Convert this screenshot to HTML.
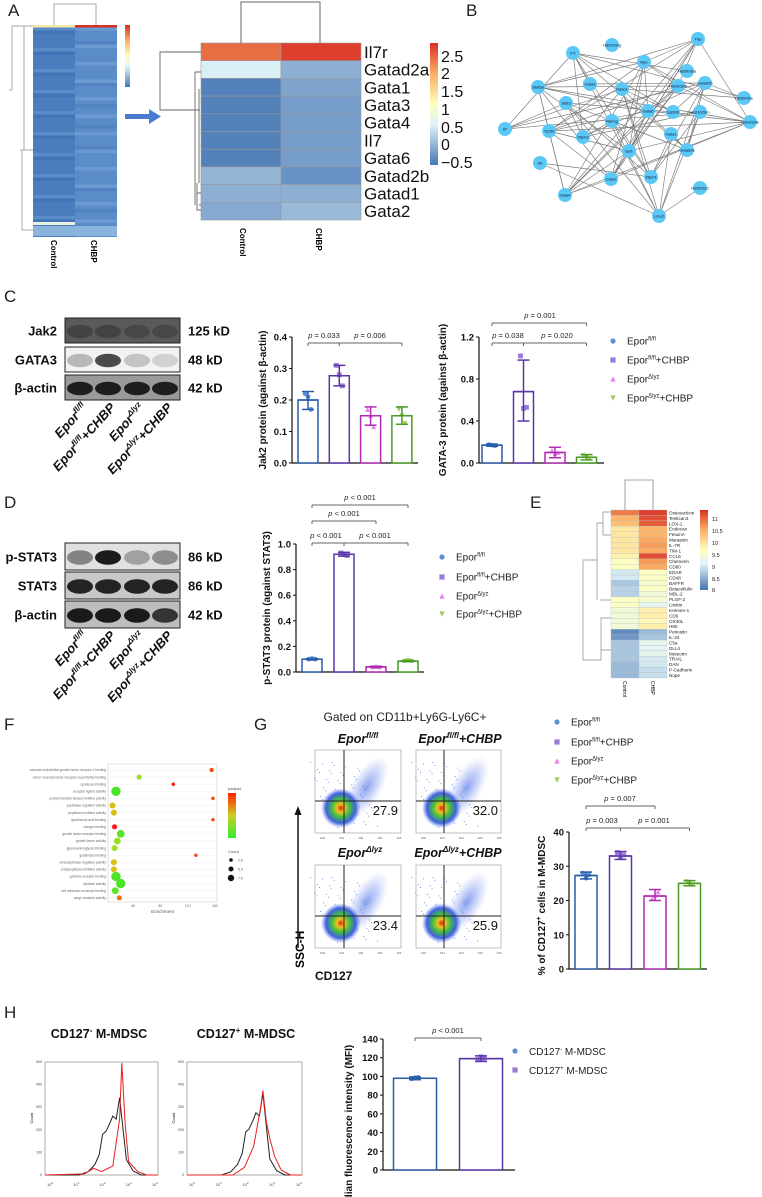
<!DOCTYPE html>
<html><head><meta charset="utf-8">
<style>
html,body{margin:0;padding:0;background:#fff;}
svg{display:block;font-family:"Liberation Sans",Arial,sans-serif;}
</style></head>
<body>
<svg id="fig" width="762" height="1197" viewBox="0 0 762 1197" xmlns="http://www.w3.org/2000/svg">
<defs>
<linearGradient id="cbA" x1="0" y1="1" x2="0" y2="0">
<stop offset="0" stop-color="#4575b4"/><stop offset="0.33" stop-color="#e0f3f8"/><stop offset="0.5" stop-color="#ffffbf"/><stop offset="0.75" stop-color="#fdae61"/><stop offset="1" stop-color="#d73027"/></linearGradient>
<linearGradient id="cbF" x1="0" y1="1" x2="0" y2="0">
<stop offset="0" stop-color="#33ee33"/><stop offset="0.5" stop-color="#cccc22"/><stop offset="1" stop-color="#ff2200"/></linearGradient>
<radialGradient id="flow"><stop offset="0" stop-color="#e02020"/><stop offset="0.2" stop-color="#f0c020"/><stop offset="0.45" stop-color="#40c040"/><stop offset="0.75" stop-color="#4060e0"/><stop offset="1" stop-color="#6080f0" stop-opacity="0"/></radialGradient>
<radialGradient id="flow2"><stop offset="0" stop-color="#6080e8"/><stop offset="0.5" stop-color="#8aa0f0" stop-opacity="0.6"/><stop offset="1" stop-color="#a0b0f8" stop-opacity="0"/></radialGradient>
</defs>
<g id="root"></g>
</svg>
<script>
// ---------- Chart data ----------
var groups = ["Epor fl/fl","Epor fl/fl+CHBP","Epor Δlyz","Epor Δlyz+CHBP"];
var jak2Values = [0.20, 0.277, 0.15, 0.15];
var jak2Lo = [0.17, 0.245, 0.12, 0.123];
var jak2Hi = [0.227, 0.31, 0.178, 0.178];
var jak2Points = [[0.22,0.21,0.17],[0.31,0.28,0.245],[0.17,0.15,0.115],[0.17,0.15,0.125]];
var jak2Ticks = [0,0.1,0.2,0.3,0.4];
var gata3Values = [0.17, 0.68, 0.10, 0.055];
var gata3Lo = [0.16, 0.40, 0.05, 0.03];
var gata3Hi = [0.18, 0.98, 0.15, 0.08];
var gata3Points = [[0.175,0.17,0.165],[1.02,0.52,0.53],[0.12,0.09,0.1],[0.07,0.05,0.04]];
var gata3Ticks = [0,0.4,0.8,1.2];
var pstat3Values = [0.10, 0.92, 0.04, 0.085];
var pstat3Lo = [0.095, 0.905, 0.035, 0.08];
var pstat3Hi = [0.105, 0.935, 0.045, 0.09];
var pstat3Points = [[0.1,0.105,0.1],[0.93,0.92,0.91],[0.04,0.045,0.04],[0.085,0.09,0.085]];
var pstat3Ticks = [0,0.2,0.4,0.6,0.8,1.0];
var cd127Values = [27.3, 33.0, 21.3, 25.0];
var cd127Lo = [26.3, 32.0, 20.0, 24.3];
var cd127Hi = [28.3, 34.3, 23.2, 25.8];
var cd127Points = [[28,26.5,27.5],[34,32.5,33.3],[20.5,21.5,22.5],[25.5,24.8,24.6]];
var cd127Ticks = [0,10,20,30,40];
var mfiGroups = ["CD127- M-MDSC","CD127+ M-MDSC"];
var mfiValues = [98, 119];
var mfiLo = [96.5, 116];
var mfiHi = [99.5, 122];
var mfiPoints = [[97.5,98.5,99],[118,121,119.5]];
var mfiTicks = [0,20,40,60,80,100,120,140];
var flowPercents = ["27.9","32.0","23.4","25.9"];
var aGenes = ["Il7r","Gatad2a","Gata1","Gata3","Gata4","Il7","Gata6","Gatad2b","Gatad1","Gata2"];
var aControl = [2.3, 0.45, -0.5, -0.5, -0.5, -0.5, -0.5, -0.05, -0.1, -0.15];
var aCHBP = [2.6, -0.1, -0.2, -0.25, -0.25, -0.25, -0.25, -0.35, -0.1, 0.0];
var eProteins = ["Osteoactivin","Testican3","LOX-1","Endocan","FetuinA","Marapsin","IL-7R","TIM-1","CCL6","Chemerin","CD80","EDAR","CD48","BAFFR","Betacellulin","MBL-2","PLGF-2","Limitin","Kremen-1","CD6","OX40L","H60","Periostin","IL-33","C5a","DLL4","Meteorin","TRAIL","DAN","P-Cadherin","Nope"];
var eControl = [10.8,10.4,10.3,9.9,9.9,9.9,9.9,9.9,9.8,9.6,9.6,9.0,9.0,8.7,8.8,8.8,9.6,9.6,9.4,9.4,9.4,9.4,8.2,8.3,8.7,8.7,8.7,8.7,8.6,8.6,8.6];
var eCHBP = [11.2,11.1,11.0,10.4,10.4,10.5,10.6,10.5,11.1,10.6,10.5,9.6,9.6,9.5,9.6,9.4,9.5,9.2,9.8,9.8,9.7,9.8,8.6,8.7,9.2,9.1,9.2,9.0,9.0,8.9,8.9];
var fTerms = ["vascular endothelial growth factor receptor 2 binding","tumor necrosis factor receptor superfamily binding","syndecan binding","receptor ligand activity","protein tyrosine kinase inhibitor activity","peptidase regulator activity","peptidase inhibitor activity","lipoteichoic acid binding","integrin binding","growth factor receptor binding","growth factor activity","glycosaminoglycan binding","gelatinase binding","endopeptidase regulator activity","endopeptidase inhibitor activity","cytokine receptor binding","cytokine activity","cell adhesion molecule binding","cargo receptor activity"];
var fEnrich = [155,49,99,15,157,10,12,157,13,22,17,13,132,12,12,15,22,14,20];
var fPadj = [0.034,0.012,0.04,0.002,0.034,0.022,0.022,0.034,0.04,0.004,0.012,0.014,0.034,0.022,0.022,0.002,0.002,0.004,0.03];
var fCount = [3,4,2,9,2,5,5,2,4,7,6,5,2,5,5,9,9,6,4];
var fTicks = [40,80,120,160];

// ---------- helpers ----------
var NS="http://www.w3.org/2000/svg";
var root=document.getElementById('root');
function mk(tag, attrs, parent, txt){
  var e=document.createElementNS(NS,tag);
  for(var k in attrs) e.setAttribute(k, attrs[k]);
  if(txt!==undefined) e.textContent=txt;
  (parent||root).appendChild(e);
  return e;
}
function grp(name){
  var g=mk('g',{});
  
  
  return g;
}
var gColors=["#2a5ca8","#5b35a8","#b02cb0","#4a9a24"];
var gMark=["#5b8fd8","#9a7ad8","#ea7ee8","#9acd52"];

function panelLabel(t,x,y){
  var e=mk('text',{x:x,y:y,'font-size':17,fill:'#222'},root,t);
  
  
}
['A',8,16,'B',466,16,'C',4,302,'D',4,508,'E',530,508,'F',4,730,'G',254,730,'H',4,1018].forEach(function(v,i,a){ if(i%3===0) panelLabel(a[i],a[i+1],a[i+2]); });

function marker(g,shape,x,y,c,s){
  s=s||2.6;
  if(shape===0) mk('circle',{cx:x,cy:y,r:s,fill:c},g);
  else if(shape===1) mk('rect',{x:x-s,y:y-s,width:2*s,height:2*s,fill:c},g);
  else if(shape===2) mk('polygon',{points:(x)+','+(y-s)+' '+(x-s)+','+(y+s)+' '+(x+s)+','+(y+s),fill:c},g);
  else mk('polygon',{points:(x)+','+(y+s)+' '+(x-s)+','+(y-s)+' '+(x+s)+','+(y-s),fill:c},g);
}

function barChart(cfg){
  var g=grp(cfg.name);
  var y0=cfg.y0, y1=cfg.y1, maxV=cfg.ticks[cfg.ticks.length-1];
  function Y(v){return y0-(v/maxV)*(y0-y1);}
  function X(i){return cfg.x0+cfg.first+i*cfg.step;}
  mk('line',{x1:cfg.x0,y1:y1,x2:cfg.x0,y2:y0,stroke:'#111','stroke-width':1.2},g);
  mk('line',{x1:cfg.x0,y1:y0,x2:cfg.xEnd,y2:y0,stroke:'#111','stroke-width':1.2},g);
  cfg.ticks.forEach(function(t){
    mk('line',{x1:cfg.x0-3,y1:Y(t),x2:cfg.x0,y2:Y(t),stroke:'#111','stroke-width':1},g);
    var tl=mk('text',{x:cfg.x0-5,y:Y(t)+3.5,'font-size':9.5,'font-weight':'bold','text-anchor':'end',fill:'#111'},g,cfg.fmt(t));
    
    
  });
  var yl=mk('text',{x:0,y:0,'font-size':cfg.lfs||10,'font-weight':'bold','text-anchor':'middle',fill:'#111',transform:'translate('+cfg.lx+','+((y0+y1)/2+(cfg.ldy||0))+') rotate(-90)'},g);
  yl.innerHTML=cfg.label;
  
  
  cfg.values.forEach(function(v,i){
    var cx=X(i), w=cfg.bw;
    var b=mk('rect',{x:cx-w/2,y:Y(v),width:w,height:y0-Y(v),fill:'#fff',stroke:cfg.colors[i],'stroke-width':1.5},g);
    
    
    cfg.points[i].forEach(function(p,k){ marker(g,cfg.shapes?cfg.shapes[i]:i,cx+(k-1)*3,Y(p),cfg.mcolors[i],2.4); });
    mk('line',{x1:cx,y1:Y(cfg.hi[i]),x2:cx,y2:Y(cfg.lo[i]),stroke:cfg.colors[i],'stroke-width':1.5},g);
    mk('line',{x1:cx-6,y1:Y(cfg.hi[i]),x2:cx+6,y2:Y(cfg.hi[i]),stroke:cfg.colors[i],'stroke-width':1.5},g);
    mk('line',{x1:cx-6,y1:Y(cfg.lo[i]),x2:cx+6,y2:Y(cfg.lo[i]),stroke:cfg.colors[i],'stroke-width':1.5},g);
    mk('line',{x1:cx-w/2,y1:Y(v),x2:cx+w/2,y2:Y(v),stroke:cfg.colors[i],'stroke-width':1.5},g);
  });
  (cfg.sig||[]).forEach(function(s){
    var xa=X(s.a), xb=X(s.b);
    mk('line',{x1:xa,y1:s.y,x2:xb,y2:s.y,stroke:'#666','stroke-width':1},g);
    mk('line',{x1:xa,y1:s.y,x2:xa,y2:s.y+3,stroke:'#666','stroke-width':1},g);
    mk('line',{x1:xb,y1:s.y,x2:xb,y2:s.y+3,stroke:'#666','stroke-width':1},g);
    if(s.mid!==undefined) mk('line',{x1:X(s.mid),y1:s.y,x2:X(s.mid),y2:s.y+3,stroke:'#666','stroke-width':1},g);
    s.txt.forEach(function(t){
      var e=mk('text',{x:t[0],y:s.y-5,'font-size':7.5,'text-anchor':'middle',fill:'#222'},g);
      e.innerHTML='<tspan font-style="italic">p</tspan> '+t[1];
      
      
    });
  });
}

function legend4(name,x,ys){
  var g=grp(name);
  var labs=['Epor<tspan font-size="6" dy="-4">fl/fl</tspan>','Epor<tspan font-size="6" dy="-4">fl/fl</tspan><tspan dy="4">+CHBP</tspan>','Epor<tspan font-size="6" dy="-4">Δlyz</tspan>','Epor<tspan font-size="6" dy="-4">Δlyz</tspan><tspan dy="4">+CHBP</tspan>'];
  ys.forEach(function(y,i){
    marker(g,i,x,y,gMark[i],2.6);
    var t=mk('text',{x:x+14,y:y+3.5,'font-size':10,fill:'#222'},g);
    t.innerHTML=labs[i];
    
    
  });
}

// ---------- Panel A ----------
function heatColor(v,min,max){
  var t=(v-min)/(max-min); t=Math.max(0,Math.min(1,t));
  var stops=[[0,[69,117,180]],[0.33,[224,243,248]],[0.5,[255,255,191]],[0.75,[253,174,97]],[1,[215,48,39]]];
  for(var i=1;i<stops.length;i++){ if(t<=stops[i][0]){ var a=stops[i-1],b=stops[i],f=(t-a[0])/(b[0]-a[0]);
    return 'rgb('+[0,1,2].map(function(k){return Math.round(a[1][k]+(b[1][k]-a[1][k])*f);}).join(',')+')'; } }
  return 'rgb(215,48,39)';
}
(function(){
  var g=grp('panel-a-overview-heatmap');
  g.setAttribute('shape-rendering','crispEdges');
  mk('rect',{x:33,y:25,width:84,height:212,fill:'#4b7fc0'},g);
  var shades=['#5a8cc8','#4a7cbe','#6a9ad0','#4374b8','#5283c3','#7fa9d6'];
  for(var i=0;i<60;i++){
    var y=27+i*3.5;
    mk('rect',{x:33,y:y,width:42,height:3.6,fill:shades[(i*7)%6===1?3:((i*5)%6===0?0:1)]},g);
    mk('rect',{x:75,y:y,width:42,height:3.6,fill:shades[(i*3)%5===0?2:((i*11)%6==2?4:0)]},g);
  }
  mk('rect',{x:33,y:25,width:42,height:2.5,fill:'#f3e9a5'},g);
  mk('rect',{x:75,y:25,width:42,height:2.5,fill:'#d73027'},g);
  mk('rect',{x:33,y:222,width:42,height:3,fill:'#e8f0e0'},g);
  mk('rect',{x:33,y:226,width:84,height:10,fill:'#8ab4dc'},g);
  mk('path',{d:'M54 25 V4 H96 V25',fill:'none',stroke:'#aaa','stroke-width':1},g);
  mk('path',{d:'M33 26 H12 V90 M12 90 H9 M24 26 V150 M20 150 H33 M22 150 V230 H33',fill:'none',stroke:'#aaa','stroke-width':0.8},g);
  mk('rect',{x:125,y:25,width:5,height:62,fill:'url(#cbA)'},g);
  mk('text',{x:0,y:0,'font-size':8,'font-weight':'bold',transform:'translate(51,240) rotate(90)'},g,'Control');
  mk('text',{x:0,y:0,'font-size':8,'font-weight':'bold',transform:'translate(91,240) rotate(90)'},g,'CHBP');
  var ar=grp('arrow');
  mk('rect',{x:125,y:114,width:24,height:5,fill:'#4a7bd0'},ar);
  mk('polygon',{points:'149,109 161,116.5 149,124',fill:'#4a7bd0'},ar);
})();
(function(){
  var g=grp('panel-a-gene-heatmap');
  var x0=201,y0=43,cw=80,rh=17.7;
  aGenes.forEach(function(gn,i){
    var r1=mk('rect',{x:x0,y:y0+i*rh,width:cw,height:rh,fill:heatColor(aControl[i],-0.6,2.7),stroke:'#999','stroke-width':0.6},g);
    
    
    var r2=mk('rect',{x:x0+cw,y:y0+i*rh,width:cw,height:rh,fill:heatColor(aCHBP[i],-0.6,2.7),stroke:'#999','stroke-width':0.6},g);
    
    
    var t=mk('text',{x:364,y:y0+i*rh+rh/2+6,'font-size':17,fill:'#111'},g,gn);
    
    
  });
  mk('path',{d:'M241 43 V2 H320 V43',fill:'none',stroke:'#666','stroke-width':1},g);
  mk('path',{d:'M201 52 H160 V110 H195 M195 110 H200 M195 72 V205 M195 72 H201 M199 89 V183 M199 205 H201 M197 183 V210 H201 M197 193 H201',fill:'none',stroke:'#666','stroke-width':0.9},g);
  mk('rect',{x:430,y:43,width:8,height:122,fill:'url(#cbA)'},g);
  [['2.5',56],['2',73],['1.5',91],['1',109],['0.5',127],['0',144],['−0.5',162]].forEach(function(v){
    mk('text',{x:441,y:v[1]+6,'font-size':16,fill:'#111'},g,v[0]);
  });
  mk('text',{x:0,y:0,'font-size':8,'font-weight':'bold',transform:'translate(240,228) rotate(90)'},g,'Control');
  mk('text',{x:0,y:0,'font-size':8,'font-weight':'bold',transform:'translate(316,228) rotate(90)'},g,'CHBP');
})();

// ---------- Panel B network ----------
(function(){
  var g=grp('panel-b-network');
  var nodes=[['Tbp',698,39],['Hist1h2bg',612,45],['Il7r',573,53],['Myc',644,62],['Hist3h2ba',687,71],['Gatad2b',705,83],['Stat5a',538,87],['Gata3',590,84],['Hdac1',622,89],['Hist1h2bb',678,86],['Hist2h2be',744,98],['Stat3',566,103],['Gata6',648,111],['Ep300',673,112],['Hist1h2bm',700,112],['Hist1h2bk',750,122],['Il7',505,129],['Nanog',612,121],['Trp53',549,131],['Zfpm2',583,137],['Gata1',671,134],['Spi1',629,151],['Gatad2a',687,150],['Kit',540,163],['Gata2',611,179],['Zfpm1',651,177],['Hist2h3c2',700,188],['Gata4',565,195],['Lmo2',659,216]];
  var n=nodes.length;
  for(var i=0;i<n;i++) for(var j=i+1;j<n;j++){
    if((i*7+j*5+i*j)%3!==0) continue;
    mk('line',{x1:nodes[i][1],y1:nodes[i][2],x2:nodes[j][1],y2:nodes[j][2],stroke:'#7a7a7a','stroke-width':0.65},g);
  }
  nodes.forEach(function(nd){
    var c=mk('circle',{cx:nd[1],cy:nd[2],r:7,fill:'#5bc8f5'},g);
    
    
    mk('text',{x:nd[1],y:nd[2]+1.5,'font-size':4,'text-anchor':'middle',fill:'#113'},g,nd[0]);
  });
})();

// ---------- Western blots ----------
function blot(name,rows,bands,lab,kd,y0s,h){
  var g=grp(name);
  var lanes=[80,108,137,165];
  rows.forEach(function(r,ri){
    var y=y0s[ri];
    mk('rect',{x:65,y:y,width:115,height:h,fill:bands[ri].bg,stroke:'#222','stroke-width':1},g);
    lanes.forEach(function(lx,li){
      var a=bands[ri].a[li];
      if(a>0) mk('ellipse',{cx:lx,cy:y+h/2+1,rx:13,ry:h*0.27,fill:'#111',opacity:a},g);
    });
    var t=mk('text',{x:57,y:y+h/2+5,'font-size':13,'font-weight':'bold','text-anchor':'end',fill:'#111'},g,lab[ri]);
    
    
    mk('text',{x:188,y:y+h/2+5,'font-size':13,'font-weight':'bold',fill:'#111'},g,kd[ri]);
  });
  var labs=['Epor<tspan font-size="8" dy="-5">fl/fl</tspan>','Epor<tspan font-size="8" dy="-5">fl/fl</tspan><tspan dy="5">+CHBP</tspan>','Epor<tspan font-size="8" dy="-5">Δlyz</tspan>','Epor<tspan font-size="8" dy="-5">Δlyz</tspan><tspan dy="5">+CHBP</tspan>'];
  var ly=y0s[y0s.length-1]+h+8;
  lanes.forEach(function(lx,i){
    var t=mk('text',{x:0,y:0,'font-size':13,'font-weight':'bold','font-style':'italic','text-anchor':'end',fill:'#111',transform:'translate('+(lx+8)+','+ly+') rotate(-48)'},g);
    t.innerHTML=labs[i];
    
    
  });
}
blot('panel-c-western-blot',[0,1,2],[{bg:'#5a5a5a',a:[0.3,0.3,0.25,0.25]},{bg:'#f2f2f2',a:[0.25,0.75,0.2,0.15]},{bg:'#9a9a9a',a:[0.9,0.9,0.9,0.9]}],['Jak2','GATA3','β-actin'],['125 kD','48 kD','42 kD'],[318,347,375],25);
blot('panel-d-western-blot',[0,1,2],[{bg:'#e0e0e0',a:[0.45,0.95,0.3,0.4]},{bg:'#c8c8c8',a:[0.9,0.9,0.9,0.9]},{bg:'#bdbdbd',a:[0.95,0.95,0.95,0.8]}],['p-STAT3','STAT3','β-actin'],['86 kD','86 kD','42 kD'],[543,572,601],27);

// ---------- Bar charts ----------
function f1(t){return t.toFixed(1);}
barChart({name:'jak2-bar-chart',x0:292,xEnd:418,y0:463,y1:337,first:16,step:31.3,bw:20,ticks:jak2Ticks,fmt:f1,values:jak2Values,lo:jak2Lo,hi:jak2Hi,points:jak2Points,colors:gColors,mcolors:gMark,lx:266,
  label:'Jak2 protein (against β-actin)',sig:[{a:0,b:3,mid:1,y:343,txt:[[324,'= 0.033'],[370,'= 0.006']]}]});
barChart({name:'gata3-bar-chart',x0:479,xEnd:604,y0:463,y1:337,first:13,step:31.5,bw:20,ticks:gata3Ticks,fmt:f1,values:gata3Values,lo:gata3Lo,hi:gata3Hi,points:gata3Points,colors:gColors,mcolors:gMark,lx:446,
  label:'GATA-3 protein (against β-actin)',sig:[{a:0,b:3,y:323,txt:[[540,'= 0.001']]},{a:0,b:3,mid:1,y:343,txt:[[508,'= 0.038'],[557,'= 0.020']]}]});
legend4('panel-c-legend',613,[341,360,379,398]);
barChart({name:'pstat3-bar-chart',x0:296,xEnd:424,y0:672,y1:544,first:16,step:32,bw:20,ticks:pstat3Ticks,fmt:f1,values:pstat3Values,lo:pstat3Lo,hi:pstat3Hi,points:pstat3Points,colors:gColors,mcolors:gMark,lx:270,
  label:'p-STAT3 protein (against STAT3)',sig:[{a:0,b:3,y:505,txt:[[360,'&lt; 0.001']]},{a:0,b:2,y:521,txt:[[344,'&lt; 0.001']]},{a:0,b:3,mid:1,y:543,txt:[[326,'&lt; 0.001'],[375,'&lt; 0.001']]}]});
legend4('panel-d-legend',442,[557,577,596,614]);
barChart({name:'cd127-bar-chart',x0:569,xEnd:707,y0:969,y1:832,first:17,step:34.5,bw:22,ticks:cd127Ticks,fmt:function(t){return ''+t;},values:cd127Values,lo:cd127Lo,hi:cd127Hi,points:cd127Points,colors:gColors,mcolors:gMark,lx:545,ldy:5,
  label:'% of CD127<tspan font-size="7" dy="-4">+</tspan><tspan dy="4"> cells in M-MDSC</tspan>',sig:[{a:0,b:2,y:806,txt:[[620,'= 0.007']]},{a:0,b:3,mid:1,y:828,txt:[[602,'= 0.003'],[654,'= 0.001']]}]});
legend4('panel-g-legend',557,[722,742,761,780]);
barChart({name:'mfi-bar-chart',x0:383,xEnd:515,y0:1170,y1:1039,first:32,step:66,bw:43,ticks:mfiTicks,fmt:function(t){return ''+t;},values:mfiValues,lo:mfiLo,hi:mfiHi,points:mfiPoints,colors:[gColors[0],gColors[1]],mcolors:[gMark[0],gMark[1]],lx:352,ldy:25,
  label:'Median fluorescence intensity (MFI)',sig:[{a:0,b:1,y:1038,txt:[[448,'&lt; 0.001']]}]});
(function(){
  var g=grp('panel-h-legend');
  marker(g,0,515,1051,gMark[0],2.6); marker(g,1,515,1070,gMark[1],2.6);
  var t1=mk('text',{x:529,y:1055,'font-size':10,fill:'#222'},g); t1.innerHTML='CD127<tspan font-size="6" dy="-4">-</tspan><tspan dy="4"> M-MDSC</tspan>';
   
  var t2=mk('text',{x:529,y:1074,'font-size':10,fill:'#222'},g); t2.innerHTML='CD127<tspan font-size="6" dy="-4">+</tspan><tspan dy="4"> M-MDSC</tspan>';
   
})();

// ---------- Panel E heatmap ----------
(function(){
  var g=grp('panel-e-heatmap');
  var x0=611,y0=510,cw=28,rh=168/eProteins.length;
  function ec(v){return heatColor(v,8,11.3);}
  eProteins.forEach(function(p,i){
    var r1=mk('rect',{x:x0,y:y0+i*rh,width:cw,height:rh,fill:ec(eControl[i]),stroke:'#bbb','stroke-width':0.3},g);
    
    
    var r2=mk('rect',{x:x0+cw,y:y0+i*rh,width:cw,height:rh,fill:ec(eCHBP[i]),stroke:'#bbb','stroke-width':0.3},g);
    
    
    mk('text',{x:669,y:y0+i*rh+rh-1,'font-size':4.6,fill:'#222'},g,p);
  });
  mk('path',{d:'M625 510 V480 H653 V510',fill:'none',stroke:'#888','stroke-width':0.8},g);
  mk('path',{d:'M611 512 H603 V535 H611 M603 523 H597 V600 M597 560 H583 V660 M583 660 H601 V618 H611 M601 650 H611 M600 600 H611',fill:'none',stroke:'#888','stroke-width':0.7},g);
  mk('rect',{x:700,y:510,width:8,height:80,fill:'url(#cbA)'},g);
  [['11',519],['10.5',531],['10',543],['9.5',555],['9',567],['8.5',579],['8',590]].forEach(function(v){ mk('text',{x:712,y:v[1]+2,'font-size':5.5,fill:'#222'},g,v[0]); });
  mk('text',{x:0,y:0,'font-size':5,transform:'translate(623,681) rotate(90)'},g,'Control');
  mk('text',{x:0,y:0,'font-size':5,transform:'translate(651,681) rotate(90)'},g,'CHBP');
})();

// ---------- Panel F dot plot ----------
(function(){
  var g=grp('panel-f-dot-plot');
  var x0=108,x1=217,y0=764,y1=902;
  function X(e){return 105.7+e*0.683;}
  function Yr(i){return 770+i*7.1;}
  mk('rect',{x:x0,y:y0,width:x1-x0,height:y1-y0,fill:'#fff',stroke:'#ccc','stroke-width':0.6},g);
  fTerms.forEach(function(t,i){
    mk('line',{x1:x0,y1:Yr(i),x2:x1,y2:Yr(i),stroke:'#eee','stroke-width':0.5},g);
    mk('text',{x:x0-2,y:Yr(i)+1.2,'font-size':3.3,'text-anchor':'end',fill:'#666'},g,t);
  });
  fTicks.forEach(function(t){ mk('text',{x:X(t),y:y1+5,'font-size':3.5,'text-anchor':'middle',fill:'#666'},g,''+t); });
  mk('text',{x:(x0+x1)/2,y:y1+11,'font-size':4.5,'text-anchor':'middle',fill:'#555'},g,'Enrichment');
  fTerms.forEach(function(t,i){
    var f=Math.min(1,fPadj[i]/0.04);
    var col=f<0.5?'rgb('+Math.round(60+f*2*150)+','+Math.round(230-f*20)+',40)':'rgb('+Math.round(210+(f-0.5)*2*45)+','+Math.round(210-(f-0.5)*2*190)+',20)';
    var d=mk('circle',{cx:X(fEnrich[i]),cy:Yr(i),r:0.9+fCount[i]*0.42,fill:col},g);
    
    
  });
  mk('text',{x:228,y:790,'font-size':4,fill:'#555'},g,'padjust');
  mk('rect',{x:228,y:793,width:8,height:45,fill:'url(#cbF)'},g);
  mk('text',{x:228,y:853,'font-size':4,fill:'#555'},g,'Count');
  [[860,1.8,'2.5'],[869,2.5,'5.0'],[878,3.2,'7.5']].forEach(function(v){ mk('circle',{cx:231,cy:v[0],r:v[1],fill:'#111'},g); mk('text',{x:238,y:v[0]+1.5,'font-size':3.5,fill:'#555'},g,v[2]); });
})();

// ---------- Panel G flow plots ----------
(function(){
  var g=grp('panel-g-flow-plots');
  mk('text',{x:405,y:721,'font-size':12,'text-anchor':'middle',fill:'#222'},g,'Gated on CD11b+Ly6G-Ly6C+');
  var heads=[[358,743,'Epor<tspan font-size="8" dy="-5">fl/fl</tspan>'],[460,743,'Epor<tspan font-size="8" dy="-5">fl/fl</tspan><tspan dy="5">+CHBP</tspan>'],[360,857,'Epor<tspan font-size="8" dy="-5">Δlyz</tspan>'],[458,857,'Epor<tspan font-size="8" dy="-5">Δlyz</tspan><tspan dy="5">+CHBP</tspan>']];
  heads.forEach(function(h){ var e=mk('text',{x:h[0],y:h[1],'font-size':12.5,'font-weight':'bold','font-style':'italic','text-anchor':'middle',fill:'#111'},g); e.innerHTML=h[2]; });
  var boxes=[[315,750,401,833,344,801],[416,750,501,833,444,801],[315,865,401,948,344,916],[416,865,501,948,444,916]];
  boxes.forEach(function(b,i){
    var w=b[2]-b[0],h=b[3]-b[1];
    mk('rect',{x:b[0],y:b[1],width:w,height:h,fill:'#fff',stroke:'#999','stroke-width':0.6},g);
    var cx=b[0]+w*0.6,cy=b[1]+h*0.45;
    mk('ellipse',{cx:cx,cy:cy,rx:w*0.18,ry:h*0.42,fill:'url(#flow2)',opacity:0.75,transform:'rotate(30 '+cx+' '+cy+')'},g);
    for(var k=0;k<60;k++){
      var dx=((k*37)%41)/41-0.5, dy=((k*53)%47)/47-0.5;
      mk('circle',{cx:b[0]+w*(0.35+dx*0.6+dy*0.2),cy:b[1]+h*(0.55+dy*0.8),r:0.5,fill:'#4a6ee0'},g);
    }
    mk('ellipse',{cx:b[0]+w*0.3,cy:b[1]+h*0.7,rx:w*0.23,ry:h*0.24,fill:'url(#flow)'},g);
    mk('line',{x1:b[4],y1:b[1],x2:b[4],y2:b[3],stroke:'#222','stroke-width':1},g);
    mk('line',{x1:b[0],y1:b[5],x2:b[2],y2:b[5],stroke:'#222','stroke-width':1},g);
    var p=mk('text',{x:b[2]-3,y:b[5]+14,'font-size':13,'text-anchor':'end',fill:'#111'},g,flowPercents[i]);
    
    
    for(var k2=0;k2<5;k2++) mk('text',{x:b[0]+5+k2*w/4.5,y:b[3]+6,'font-size':3,fill:'#555'},g,'10'+k2);
  });
  mk('line',{x1:298,y1:948,x2:298,y2:812,stroke:'#111','stroke-width':1.5},g);
  mk('polygon',{points:'298,806 294.5,815 301.5,815',fill:'#111'},g);
  mk('text',{x:0,y:0,'font-size':12,'font-weight':'bold',transform:'translate(304,968) rotate(-90)'},g,'SSC-H');
  mk('text',{x:315,y:980,'font-size':12,'font-weight':'bold',fill:'#111'},g,'CD127');
})();

// ---------- Panel H histograms ----------
(function(){
  var g=grp('panel-h-histograms');
  var titles=[[99,1038,'CD127<tspan font-size="8" dy="-5">-</tspan><tspan dy="5"> M-MDSC</tspan>'],[246,1038,'CD127<tspan font-size="8" dy="-5">+</tspan><tspan dy="5"> M-MDSC</tspan>']];
  titles.forEach(function(t){ var e=mk('text',{x:t[0],y:t[1],'font-size':12.5,'font-weight':'bold','text-anchor':'middle',fill:'#111'},g); e.innerHTML=t[2]; });
  var plots=[[45,158],[187,302]];
  var black=[[0,0],[0.3,0],[0.38,0.03],[0.44,0.1],[0.48,0.2],[0.51,0.4],[0.54,0.43],[0.57,0.5],[0.6,0.58],[0.63,0.55],[0.66,0.76],[0.69,0.45],[0.72,0.15],[0.78,0.04],[0.85,0],[1,0]];
  var red1=[[0,0],[0.35,0.01],[0.43,0.06],[0.5,0.03],[0.6,0.08],[0.66,0.5],[0.68,1.0],[0.71,0.45],[0.74,0.12],[0.82,0.03],[0.9,0],[1,0]];
  var red2=[[0,0],[0.4,0],[0.5,0.08],[0.58,0.3],[0.64,0.7],[0.66,0.88],[0.69,0.55],[0.72,0.38],[0.76,0.2],[0.82,0.05],[0.9,0],[1,0]];
  plots.forEach(function(p,i){
    var x0=p[0],x1=p[1],y0=1175,y1=1062,w=x1-x0,h=y0-y1;
    mk('rect',{x:x0,y:y1,width:w,height:h,fill:'#fff',stroke:'#888','stroke-width':0.7},g);
    function path(pts,sc){return pts.map(function(q,k){return (k?'L':'M')+(x0+q[0]*w).toFixed(1)+' '+(y0-q[1]*h*sc).toFixed(1);}).join(' ');}
    mk('path',{d:path(black,i?0.95:0.9),fill:'none',stroke:'#222','stroke-width':1},g);
    mk('path',{d:path(i?red2:red1,i?0.85:0.99),fill:'none',stroke:'#e8201c','stroke-width':1},g);
    ['0','100','200','300','400','500'].forEach(function(v,k){ mk('text',{x:x0-3,y:y0-k*h*0.2+1,'font-size':3.5,'text-anchor':'end',fill:'#444'},g,v); });
    mk('text',{x:0,y:0,'font-size':4,transform:'translate('+(x0-12)+','+(y0-h/2+5)+') rotate(-90)'},g,'Count');
    for(var k=0;k<5;k++){ var e=mk('text',{x:x0+5+k*(w-8)/4,y:y0+11,'font-size':4,'text-anchor':'middle',fill:'#444'},g); e.innerHTML='10<tspan font-size="3" dy="-2">'+k+'</tspan>'; }
  });
})();
</script>
</body></html>
